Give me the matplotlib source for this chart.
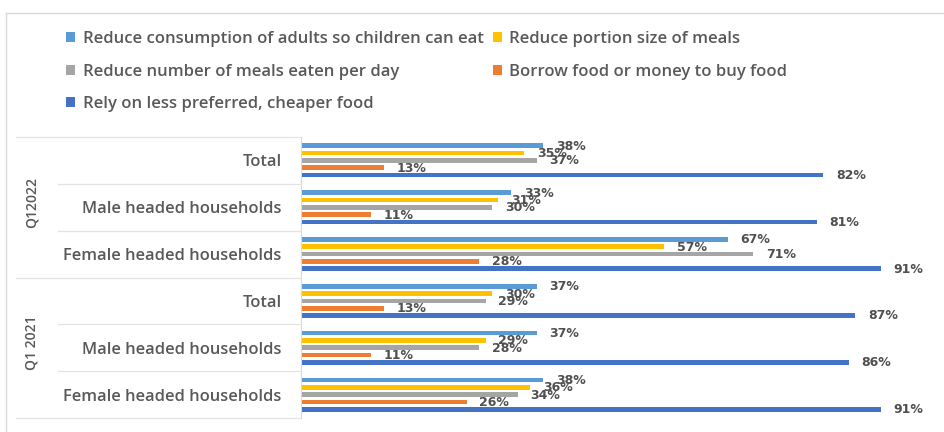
import matplotlib
matplotlib.use("Agg")
import matplotlib.pyplot as plt
from matplotlib.patches import Patch
from matplotlib.lines import Line2D
import matplotlib.transforms as mtransforms

plt.rcParams['font.family'] = ['Open Sans', 'DejaVu Sans']

# ---- data -------------------------------------------------------------
groups = ["Q12022", "Q1 2021"]
categories = ["Total", "Male headed households", "Female headed households",
              "Total", "Male headed households", "Female headed households"]
series_names = ["Reduce consumption of adults so children can eat",
                "Reduce portion size of meals",
                "Reduce number of meals eaten per day",
                "Borrow food or money to buy food",
                "Rely on less preferred, cheaper food"]
reduce_adults = [38, 33, 67, 37, 37, 38]
reduce_portion = [35, 31, 57, 30, 29, 36]
reduce_meals = [37, 30, 71, 29, 28, 34]
borrow_food = [13, 11, 28, 13, 11, 26]
cheaper_food = [82, 81, 91, 87, 86, 91]
series_values = [reduce_adults, reduce_portion, reduce_meals, borrow_food, cheaper_food]
colors = ["#5B9BD5", "#FFC000", "#A5A5A5", "#ED7D31", "#4472C4"]

W, H = 944, 432
fig = plt.figure(figsize=(W / 100, H / 100), dpi=100)
fig.patch.set_facecolor("white")

# axes box in pixel terms
x0, x1 = 301, 938
ytop, ybot = 137, 418
ax = fig.add_axes([x0 / W, (H - ybot) / H, (x1 - x0) / W, (ybot - ytop) / H])

n = len(categories)
spacing = 0.156
bar_h = 0.1
for i, (vals, col) in enumerate(zip(series_values, colors)):
    off = (i - 2) * spacing
    ys = [c + off for c in range(n)]
    ax.barh(ys, vals, height=bar_h, color=col, edgecolor="none")
    for y, v in zip(ys, vals):
        ax.text(v + 2.0, y + 0.01, f"{v}%", va="center", ha="left",
                fontsize=9, fontweight="bold", color="#505050",
                family=["DejaVu Sans"])

ax.set_xlim(0, 100)
ax.set_ylim(n - 0.5, -0.5)
ax.set_yticks(range(n))
ax.set_yticklabels(categories, fontsize=11.9, color="#595959",
                   fontweight="semibold")
ax.tick_params(axis="y", length=0, pad=14)
ax.xaxis.set_visible(False)
for s in ["top", "right", "bottom"]:
    ax.spines[s].set_visible(False)
ax.spines["left"].set_color("#D9D9D9")
ax.spines["left"].set_linewidth(0.8)

# category separators in the label area
blend = mtransforms.blended_transform_factory(fig.transFigure, ax.transData)
for yb in [0.5, 1.5, 3.5, 4.5]:
    fig.add_artist(Line2D([58 / W, x0 / W], [yb, yb], transform=blend,
                          color="#E3E3E3", lw=0.9))
for yb in [-0.5, 2.5, 5.5]:
    fig.add_artist(Line2D([16 / W, x0 / W], [yb, yb], transform=blend,
                          color="#E3E3E3", lw=0.9))

# group labels
for gi, g in enumerate(groups):
    fig.text(32 / W, 1 + 3 * gi - 0.1, g, transform=blend, rotation=90,
             ha="center", va="center", fontsize=10, color="#595959",
             fontweight="semibold")

# legend
handles = [Patch(facecolor=c, edgecolor="none") for c in colors]
order = [0, 2, 4, 1, 3]
leg = fig.legend([handles[i] for i in order], [series_names[i] for i in order],
                 ncol=2, loc="upper left", bbox_to_anchor=(66 / W, 1 - 31 / H),
                 frameon=False,
                 prop={"size": 12, "weight": "semibold"},
                 handlelength=0.55, handleheight=0.55,
                 handletextpad=0.45, columnspacing=0.55, labelspacing=1.0,
                 borderpad=0, borderaxespad=0)
for t in leg.get_texts():
    t.set_color("#595959")

# outer chart frame
fig.add_artist(Line2D([6 / W, 1], [1 - 13 / H, 1 - 13 / H], color="#D9D9D9", lw=1))
fig.add_artist(Line2D([6 / W, 6 / W], [0, 1 - 13 / H], color="#D9D9D9", lw=1))

fig.savefig("out.png", dpi=100)
